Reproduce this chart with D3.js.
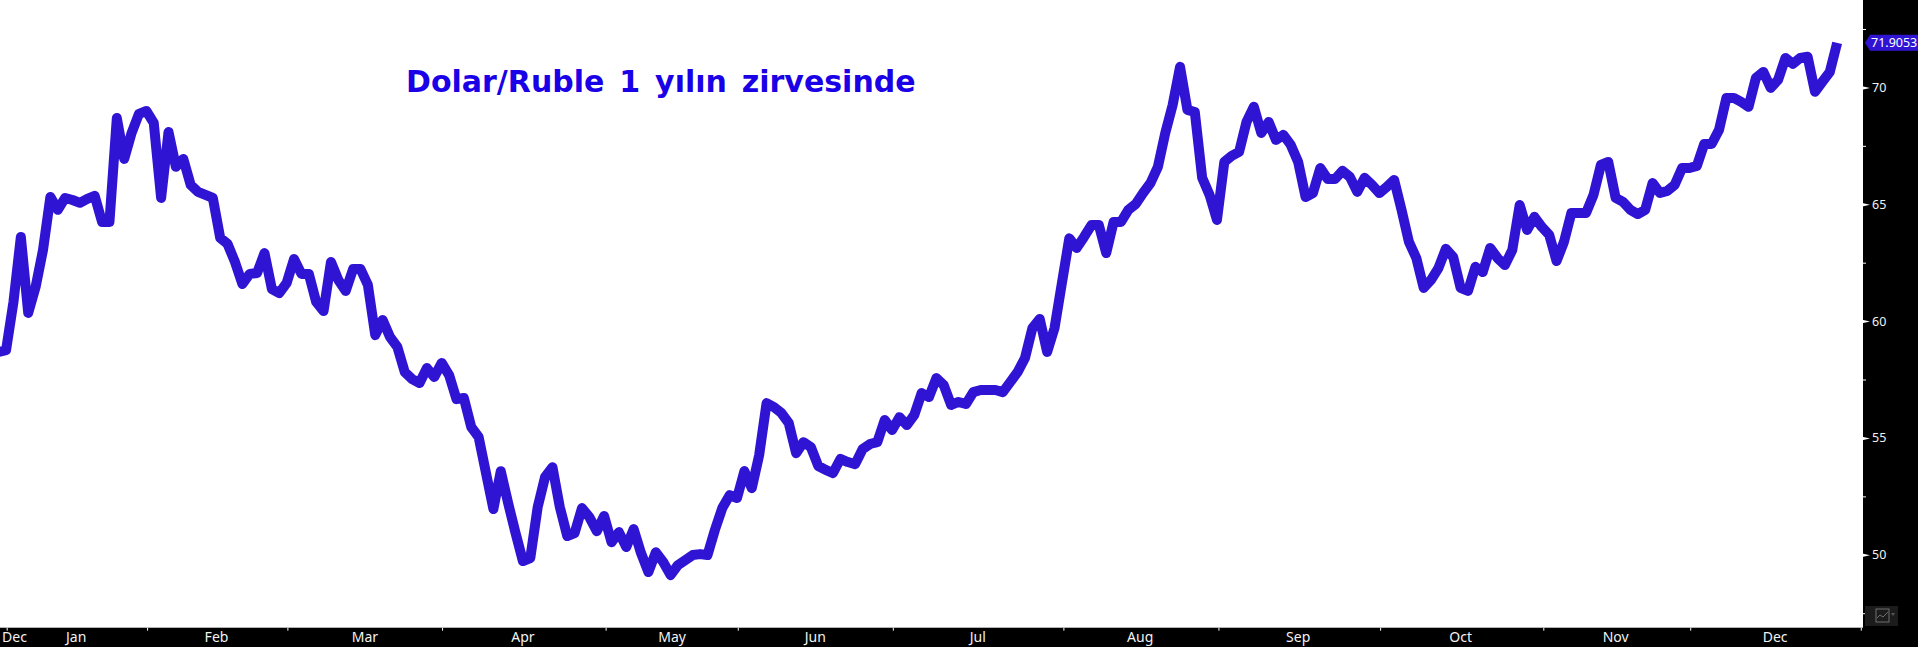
<!DOCTYPE html>
<html>
<head>
<meta charset="utf-8">
<script src="https://d3js.org/d3.v7.min.js"></script>
<style>
  html, body { margin: 0; padding: 0; background: #000; overflow: hidden; }
  svg { display: block; }
  .axis text { fill: #f2f2f2; font-family: 'Noto Sans', sans-serif; font-size: 12.5px; }
  .axis.months text { font-size: 14px; }
  .axis .domain { display: none; }
  .axis line { stroke: #fff; }
</style>
</head>
<body>
<script>
// USD/RUB closes, one per trading day
var closes = [
  58.68,58.76,60.82,63.60,60.35,61.46,63.04,65.31,64.76,65.27,
  65.18,65.06,65.23,65.36,64.24,64.24,68.69,66.94,68.05,68.87,
  68.99,68.48,65.27,68.09,66.60,66.94,65.83,65.53,65.40,65.27,
  63.56,63.30,62.53,61.59,62.02,62.06,62.91,61.37,61.20,61.63,
  62.66,62.02,62.02,60.82,60.43,62.53,61.76,61.29,62.23,62.23,
  61.55,59.40,60.05,59.32,58.89,57.82,57.52,57.35,57.99,57.61,
  58.21,57.69,56.66,56.71,55.47,55.04,53.50,51.96,53.58,52.21,
  50.93,49.73,49.86,52.04,53.33,53.75,52.04,50.80,50.93,52.00,
  51.61,51.01,51.66,50.54,50.97,50.33,51.10,50.07,49.26,50.11,
  49.69,49.13,49.56,49.77,49.99,50.03,49.99,51.06,52.00,52.55,
  52.43,53.58,52.85,54.27,56.49,56.32,56.07,55.64,54.35,54.82,
  54.61,53.80,53.63,53.50,54.10,53.97,53.88,54.52,54.74,54.82,
  55.77,55.34,55.89,55.55,55.98,56.92,56.75,57.56,57.26,56.41,
  56.54,56.45,56.96,57.05,57.05,57.05,56.96,57.39,57.82,58.42,
  59.70,60.09,58.68,59.70,61.63,63.54,63.13,63.60,64.11,64.11,
  62.91,64.24,64.24,64.76,65.01,65.48,65.91,66.60,68.05,69.25,
  70.88,69.04,68.95,66.13,65.40,64.33,66.81,67.07,67.24,68.52,
  69.17,68.05,68.52,67.75,67.97,67.54,66.81,65.31,65.48,66.55,
  66.08,66.08,66.43,66.17,65.53,66.13,65.83,65.48,65.74,66.04,
  64.76,63.39,62.70,61.42,61.76,62.27,63.09,62.74,61.42,61.29,
  62.32,62.10,63.13,62.70,62.40,63.04,64.97,63.90,64.46,64.03,
  63.69,62.57,63.39,64.63,64.63,64.63,65.40,66.68,66.81,65.27,
  65.10,64.76,64.58,64.76,65.91,65.48,65.57,65.83,66.55,66.55,
  66.64,67.58,67.58,68.18,69.55,69.55,69.38,69.17,70.41,70.66,
  69.98,70.32,71.26,71.01,71.26,71.31,69.81,70.24,70.66,71.9053
];

var months = ["Dec","Jan","Feb","Mar","Apr","May","Jun","Jul","Aug","Sep","Oct","Nov","Dec"];
// where the month names sit, in trading days from the start
var monthLabelAt = [2.14,10.5,29.5,49.6,71,91.2,110.6,132.6,154.6,176,198,219,240.6];
var monthTicks = [1.08,20.1,39.1,60.05,82.2,100.1,121.1,144.2,165.2,187.1,209.2,229.1,252.2];
var yTicks = [50,55,60,65,70];
var yMinorTicks = [47.5,52.5,57.5,62.5,67.5,72.5];
var lastPrice = "71.9053";
var title = "Dolar/Ruble 1 yılın zirvesinde";

var w = 1918, h = 647;
var plotR = 1863, plotB = 627.7;

var svg = d3.select("body").append("svg").attr("width", w).attr("height", h);

svg.append("rect").attr("width", w).attr("height", h).attr("fill", "#000");
svg.append("rect").attr("width", plotR).attr("height", plotB).attr("fill", "#fff");

svg.append("clipPath").attr("id", "plot")
  .append("rect").attr("width", plotR).attr("height", plotB);

var x = d3.scaleLinear().domain([0, 252.5]).range([-1.3, plotR]);
var y = d3.scaleLinear().domain([50, 70]).range([554.8, 87.4]);

var line = d3.line()
  .x(function(d, i) { return x(i); })
  .y(function(d) { return y(d); });

svg.append("path")
  .datum(closes)
  .attr("clip-path", "url(#plot)")
  .attr("d", line)
  .attr("fill", "none")
  .attr("stroke", "#3014d4")
  .attr("stroke-width", 10)
  .attr("stroke-linejoin", "round");

svg.append("text")
  .attr("x", 406)
  .attr("y", 91.5)
  .attr("fill", "#1a00e6")
  .attr("font-family", "'DejaVu Sans', sans-serif")
  .attr("font-weight", "bold")
  .attr("font-size", 30)
  .attr("word-spacing", 4.5)
  .text(title);

// right axis
var gy = svg.append("g").attr("class", "axis")
  .attr("transform", "translate(" + plotR + ",0)")
  .call(d3.axisRight(y).tickValues(yTicks).tickSize(0).tickPadding(9));
gy.selectAll(".tick").append("path")
  .attr("d", "M-2,-2L7,0L-2,2Z")
  .attr("fill", "#fff");

svg.append("g").attr("class", "axis")
  .attr("transform", "translate(" + plotR + ",0)")
  .call(d3.axisRight(y).tickValues(yMinorTicks).tickSize(3).tickFormat(""));

// bottom axis
svg.append("g").attr("class", "axis")
  .attr("transform", "translate(0," + plotB + ")")
  .call(d3.axisBottom(x).tickValues(monthTicks).tickSize(3).tickFormat(""));

svg.append("g").attr("class", "axis months")
  .selectAll("text")
  .data(months)
  .enter().append("text")
  .attr("x", function(d, i) { return x(monthLabelAt[i]); })
  .attr("y", 642)
  .attr("text-anchor", "middle")
  .text(function(d) { return d; });

// last price badge
var ly = y(71.9053);
svg.append("path")
  .attr("d", "M1865," + ly + "l5,-8H1918v16H1870Z")
  .attr("fill", "#3014d4");
svg.append("text")
  .attr("x", 1871)
  .attr("y", ly + 4.5)
  .attr("fill", "#fff")
  .attr("font-family", "'Noto Sans', sans-serif")
  .attr("font-size", 12.5)
  .text(lastPrice);

// chart type button, bottom right
var btn = svg.append("g").attr("transform", "translate(1865,606)");
btn.append("rect").attr("width", 33).attr("height", 20).attr("fill", "#1c1c1c");
btn.append("rect").attr("x", 11).attr("y", 3).attr("width", 13).attr("height", 13)
  .attr("fill", "none").attr("stroke", "#6e6e6e");
btn.append("path").attr("d", "M12,12L15,9L18,11L23,6")
  .attr("fill", "none").attr("stroke", "#6e6e6e");
btn.append("path").attr("d", "M26,7h4l-2,3Z").attr("fill", "#555");
</script>
</body>
</html>
